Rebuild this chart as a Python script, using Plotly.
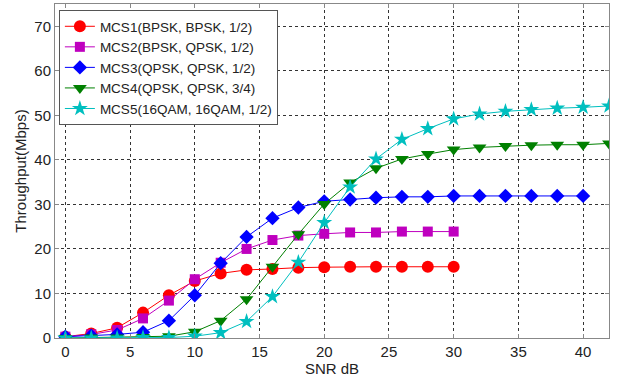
import plotly.graph_objects as go

snr_30 = [0, 2, 4, 6, 8, 10, 12, 14, 16, 18, 20, 22, 24, 26, 28, 30]
snr_40 = snr_30 + [32, 34, 36, 38, 40]
snr_42 = snr_40 + [42]

mcs1 = [0.3, 1.0, 2.3, 5.7, 9.6, 12.8, 14.5, 15.3, 15.5, 15.8, 15.9, 16.0, 16.0, 16.0, 16.0, 16.0]
mcs2 = [0.3, 0.8, 1.8, 4.4, 8.4, 13.2, 16.9, 20.0, 22.0, 23.0, 23.4, 23.7, 23.7, 23.9, 23.9, 23.9]
mcs3 = [0.3, 0.5, 0.8, 1.3, 3.9, 9.6, 16.8, 22.7, 26.9, 29.3, 30.7, 31.1, 31.5, 31.7, 31.7, 31.9,
        31.9, 31.9, 31.9, 31.9, 31.9]
mcs4 = [0.0, 0.1, 0.1, 0.2, 0.4, 1.4, 3.9, 8.7, 16.0, 23.3, 30.1, 34.9, 38.1, 40.2, 41.3, 42.3,
        42.8, 43.1, 43.3, 43.4, 43.4, 43.7]
mcs5 = [0.0, 0.0, 0.0, 0.1, 0.1, 0.4, 1.2, 3.7, 9.3, 17.0, 25.9, 33.9, 40.2, 44.6, 47.0, 49.2,
        50.3, 50.9, 51.3, 51.6, 51.8, 52.1]

names = ["MCS1(BPSK, BPSK, 1/2)", "MCS2(BPSK, QPSK, 1/2)", "MCS3(QPSK, QPSK, 1/2)",
         "MCS4(QPSK, QPSK, 3/4)", "MCS5(16QAM, 16QAM, 1/2)"]
colors = ["#ff0000", "#bf00bf", "#0000ff", "#008000", "#00bfbf"]
symbols = ["circle", "square", "diamond", "triangle-down", "star"]
sizes = [12, 10, 11, 12, 12]
xs = [snr_30, snr_30, snr_40, snr_42, snr_42]
ys = [mcs1, mcs2, mcs3, mcs4, mcs5]

FONT = "Arial, Liberation Sans, sans-serif"

fig = go.Figure()
for x, y, n, c, s, sz in zip(xs, ys, names, colors, symbols, sizes):
    fig.add_trace(go.Scatter(
        x=x, y=y, name=n, mode="lines+markers",
        line=dict(color=c, width=1),
        marker=dict(symbol=s, size=sz, color=c, line=dict(color=c, width=0)),
    ))

axis_common = dict(
    showline=True, mirror="allticks", linecolor="#888888", linewidth=1,
    showgrid=True, gridcolor="#333333", griddash="dot", gridwidth=1,
    ticks="inside", ticklen=4, tickcolor="#888888",
    tickfont=dict(family=FONT, size=15, color="#222222"),
    zeroline=False, automargin=False,
)

fig.update_layout(
    width=617, height=377,
    margin=dict(l=55, r=8, t=4, b=39),
    paper_bgcolor="white", plot_bgcolor="white",
    xaxis=dict(range=[-0.8, 42], tickvals=[0, 5, 10, 15, 20, 25, 30, 35, 40],
               title=dict(text="SNR dB", standoff=0,
                          font=dict(family=FONT, size=15, color="#222222")),
               **axis_common),
    yaxis=dict(range=[0, 75], tickvals=[0, 10, 20, 30, 40, 50, 60, 70],
               title=dict(text="Throughput(Mbps)", standoff=4,
                          font=dict(family=FONT, size=15, color="#222222")),
               **axis_common),
    legend=dict(x=0.007, y=0.982, xanchor="left", yanchor="top",
                bgcolor="white", bordercolor="#555555", borderwidth=1,
                font=dict(family=FONT, size=13.5, color="#222222"),
                tracegroupgap=0, itemwidth=30),
    showlegend=True,
)

fig.write_html("out.html", config={"displayModeBar": False},
               post_script="document.body.style.margin='0';document.body.style.overflow='hidden';")
